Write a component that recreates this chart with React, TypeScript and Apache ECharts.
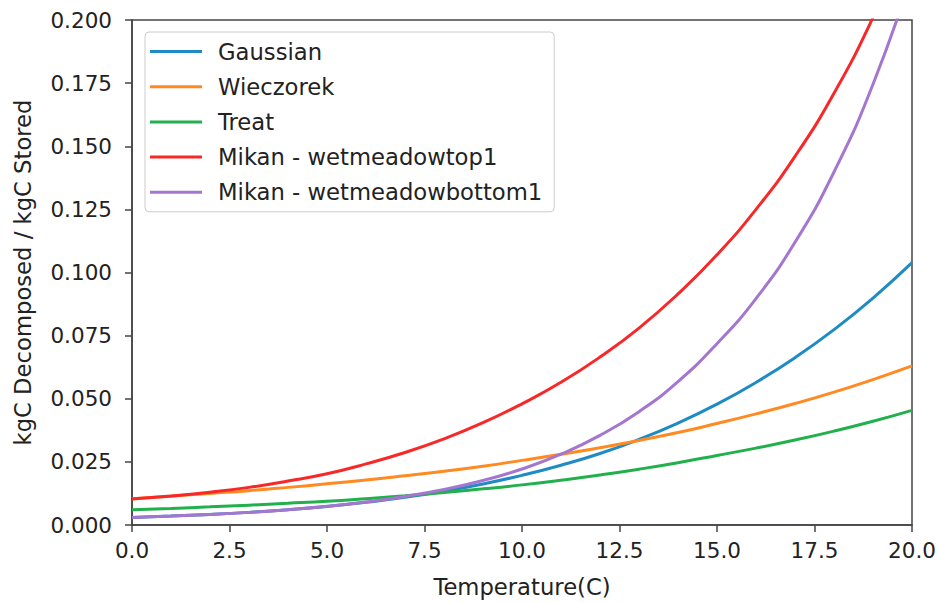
import React, { useEffect, useRef } from "react";
import * as echarts from "echarts";

const temperatures = [0, 1, 2, 3, 4, 5, 6, 7, 8, 9, 10, 11, 12, 13, 14, 15, 16, 17, 18, 19, 20];

const gaussian = [0.003, 0.00352, 0.00417, 0.005, 0.00604, 0.00734, 0.00897, 0.01095, 0.01338, 0.01626, 0.01966, 0.02366, 0.02832, 0.03391, 0.04039, 0.04787, 0.05646, 0.06626, 0.07737, 0.08989, 0.10391];
const wieczorek = [0.0104, 0.0114, 0.0125, 0.0136, 0.0149, 0.0163, 0.0178, 0.0195, 0.0213, 0.0233, 0.0256, 0.028, 0.0306, 0.0335, 0.0366, 0.0402, 0.044, 0.0481, 0.0526, 0.0576, 0.063];
const treat = [0.006, 0.00656, 0.00718, 0.00786, 0.0086, 0.0094, 0.01044, 0.0116, 0.01288, 0.01431, 0.01589, 0.01774, 0.0198, 0.02211, 0.02468, 0.02755, 0.03045, 0.03365, 0.03719, 0.0411, 0.04542];
const mikanTop = [0.0103, 0.0115, 0.013, 0.0149, 0.0174, 0.0203, 0.0242, 0.0287, 0.0341, 0.0405, 0.048, 0.0565, 0.0665, 0.078, 0.0915, 0.107, 0.125, 0.146, 0.171, 0.201, 0.236];
const mikanBottom = [0.003, 0.00352, 0.00417, 0.005, 0.00604, 0.00738, 0.00911, 0.01129, 0.01407, 0.01762, 0.02218, 0.02805, 0.03549, 0.04489, 0.05678, 0.07182, 0.08968, 0.11197, 0.13981, 0.17457, 0.21797];

const seriesNames = ["Gaussian", "Wieczorek", "Treat", "Mikan - wetmeadowtop1", "Mikan - wetmeadowbottom1"];
const seriesValues = [gaussian, wieczorek, treat, mikanTop, mikanBottom];
const seriesColors = ["#1f8bc4", "#ff8a22", "#21b04b", "#f82828", "#a476cf"];

const FONT = "DejaVu Sans";
const TICK_FS = 21.5;
const NAME_FS = 22.7;

export default function App() {
  const ref = useRef<HTMLDivElement>(null);
  useEffect(() => {
    if (!ref.current) return;
    const chart = echarts.init(ref.current, null, { renderer: "svg" });
    chart.setOption({
      animation: false,
      backgroundColor: "#fff",
      grid: {
        left: 132,
        top: 20,
        width: 780,
        height: 508,
        show: true,
        borderColor: "#444",
        borderWidth: 1.5,
        backgroundColor: "transparent",
      },
      legend: {
        orient: "vertical",
        left: 145,
        top: 32,
        padding: [8, 12, 8, 5],
        itemWidth: 52,
        itemHeight: 3,
        itemGap: 12.2,
        icon: "rect",
        backgroundColor: "rgba(255,255,255,0.8)",
        borderColor: "#cccccc",
        borderWidth: 1,
        borderRadius: 4,
        textStyle: {
          fontSize: NAME_FS,
          lineHeight: 22,
          fontFamily: FONT,
          color: "#222",
          padding: [0, 0, 0, 11],
        },
        data: seriesNames,
      },
      xAxis: {
        type: "value",
        min: 0,
        max: 20,
        interval: 2.5,
        name: "Temperature(C)",
        nameLocation: "middle",
        nameGap: 50,
        nameTextStyle: { fontSize: NAME_FS, fontFamily: FONT, color: "#222" },
        axisLine: { show: true, lineStyle: { color: "#444", width: 1.5 } },
        axisTick: { show: true, inside: false, length: 7, lineStyle: { color: "#444", width: 1.5 } },
        axisLabel: {
          margin: 14,
          fontSize: TICK_FS,
          fontFamily: FONT,
          color: "#222",
          formatter: (v: number) => v.toFixed(1),
        },
        splitLine: { show: false },
      },
      yAxis: {
        type: "value",
        min: 0,
        max: 0.2,
        interval: 0.025,
        name: "kgC Decomposed / kgC Stored",
        nameLocation: "middle",
        nameGap: 98,
        nameTextStyle: { fontSize: NAME_FS, fontFamily: FONT, color: "#222" },
        axisLine: { show: true, lineStyle: { color: "#444", width: 1.5 } },
        axisTick: { show: true, inside: false, length: 7, lineStyle: { color: "#444", width: 1.5 } },
        axisLabel: {
          margin: 20,
          fontSize: TICK_FS,
          fontFamily: FONT,
          color: "#222",
          formatter: (v: number) => v.toFixed(3),
        },
        splitLine: { show: false },
      },
      series: seriesNames.map((name, i) => ({
        name,
        type: "line",
        smooth: true,
        showSymbol: false,
        symbol: "none",
        clip: true,
        color: seriesColors[i],
        lineStyle: { color: seriesColors[i], width: 3 },
        data: temperatures.map((t, j) => [t, seriesValues[i][j]]),
      })),
    });
    return () => chart.dispose();
  }, []);
  return (
    <div
      ref={ref}
      style={{ position: "absolute", left: 0, top: 0, width: 940, height: 603, background: "#fff" }}
    />
  );
}
